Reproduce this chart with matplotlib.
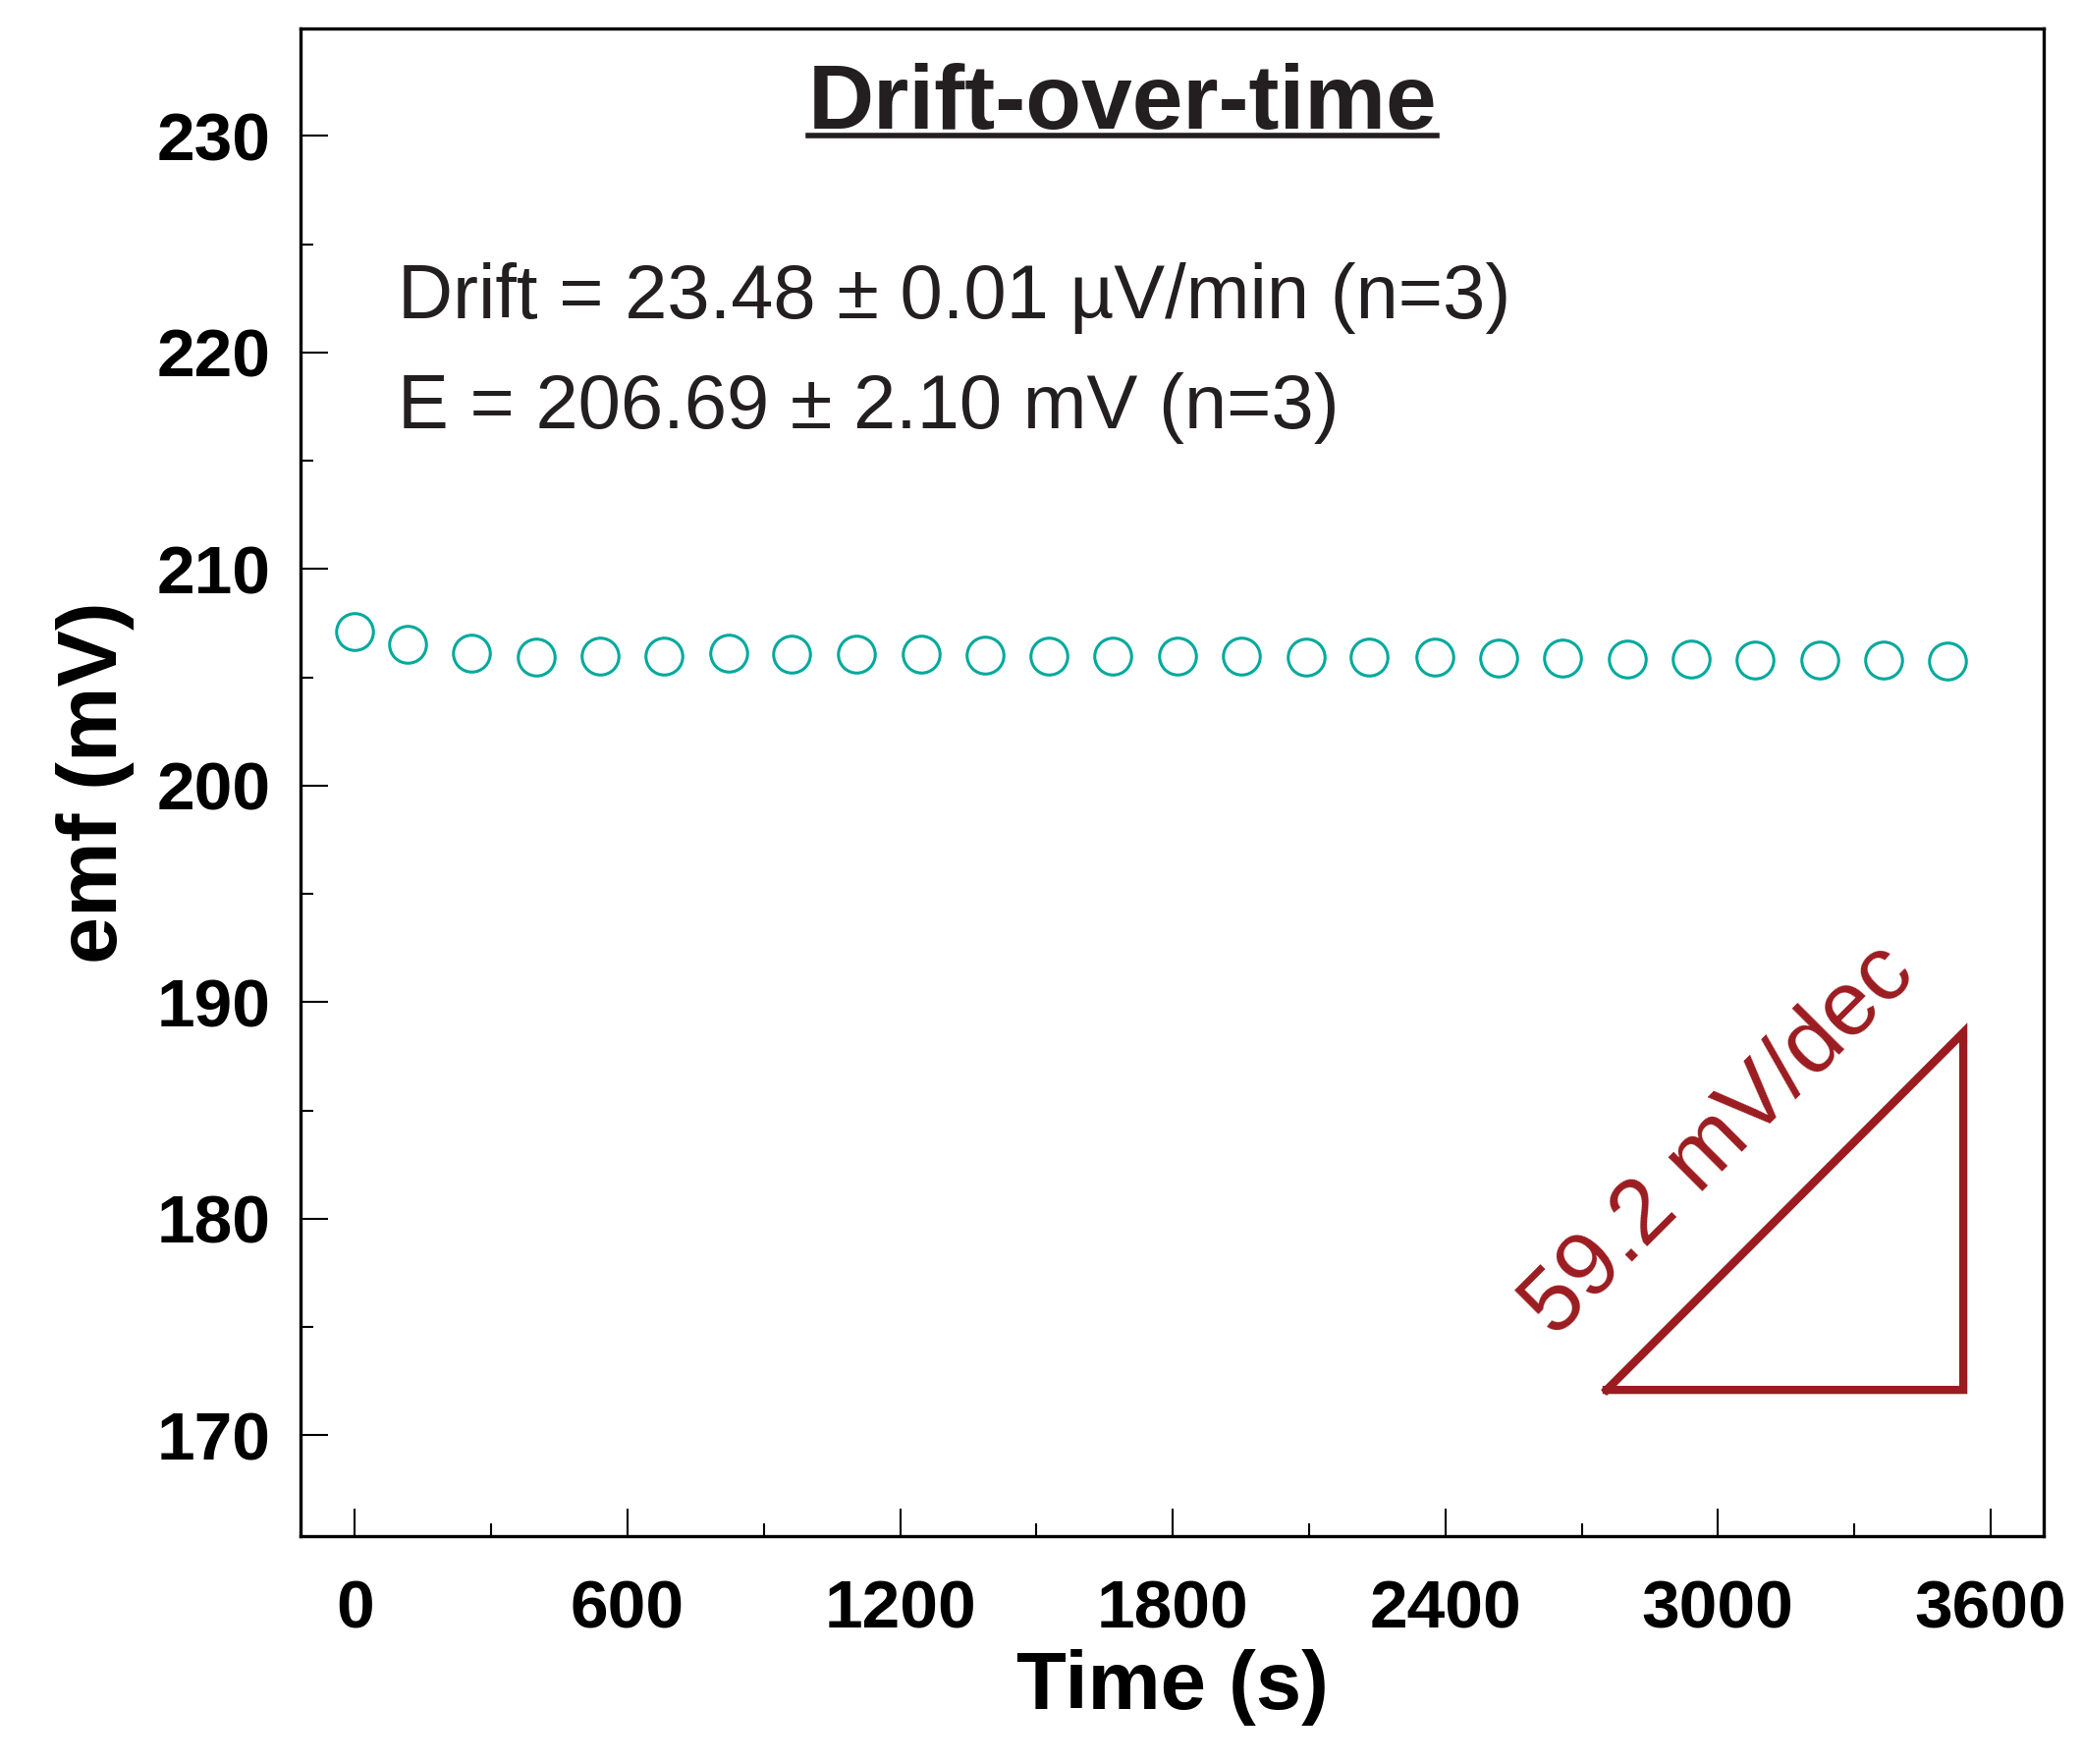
import matplotlib
matplotlib.use("Agg")
import matplotlib.pyplot as plt
from matplotlib.ticker import MultipleLocator
from matplotlib.lines import Line2D

# ---- data ----
time_s = [0, 116, 257, 398, 539, 680, 822, 962, 1103, 1246, 1387, 1527,
          1668, 1810, 1952, 2093, 2233, 2377, 2517, 2658, 2800, 2942,
          3082, 3224, 3364, 3505]
emf_mV = [207.11, 206.53, 206.12, 205.95, 206.00, 205.97, 206.11, 206.09,
          206.09, 206.06, 206.05, 206.00, 206.00, 205.97, 205.97, 205.95,
          205.93, 205.93, 205.91, 205.91, 205.87, 205.85, 205.82, 205.79,
          205.79, 205.77]
x_ticks = [0, 600, 1200, 1800, 2400, 3000, 3600]
y_ticks = [170, 180, 190, 200, 210, 220, 230]
tri_x = [2755, 3540, 3540, 2755]
tri_y = [172.1, 172.1, 188.6, 172.1]

title = "Drift-over-time"
line1 = "Drift = 23.48 \u00b1 0.01 \u00b5V/min (n=3)"
line2 = "E = 206.69 \u00b1 2.10 mV (n=3)"
slope_label = "59.2 mV/dec"

plt.rcParams['font.family'] = ['Liberation Sans', 'DejaVu Sans']

teal = "#00A99D"
red = "#9B1C20"
ink = "#231F20"

fig = plt.figure(figsize=(21.2, 17.96), dpi=100)
ax = fig.add_axes([0.1443, 0.1292, 0.9816 - 0.1443, 0.9839 - 0.1292])

ax.plot(time_s, emf_mV, linestyle='none', marker='o', markersize=27,
        markerfacecolor='none', markeredgecolor=teal, markeredgewidth=2.2)

ax.plot(tri_x, tri_y, color=red, linewidth=6, solid_joinstyle='miter')
ax.text(3003, 183.6, slope_label, rotation=45, ha='center', va='center',
        fontsize=67, color=red)

ax.set_xlim(-120, 3717)
ax.set_ylim(165.35, 234.97)
ax.set_xticks(x_ticks)
ax.set_yticks(y_ticks)
ax.xaxis.set_minor_locator(MultipleLocator(300))
ax.yaxis.set_minor_locator(MultipleLocator(5))
ax.tick_params(which='both', direction='in', top=False, right=False, width=1.5)
ax.tick_params(which='major', length=20)
ax.tick_params(which='minor', length=9.5)
ax.tick_params(axis='y', which='major', pad=22)
ax.tick_params(axis='x', which='major', pad=31)
for lab in ax.get_xticklabels() + ax.get_yticklabels():
    lab.set_fontsize(50)
    lab.set_fontweight('bold')
for s in ax.spines.values():
    s.set_linewidth(2.4)

ax.set_xlabel("Time (s)", fontsize=60, fontweight='bold', labelpad=6)
ax.set_ylabel("emf (mV)", fontsize=62, fontweight='bold', labelpad=16)

t = ax.text(0.4715, 0.9336, title, transform=ax.transAxes, ha='center',
            va='baseline', fontsize=67, fontweight='bold', color=ink)
ax.text(0.0561, 0.8075, line1, transform=ax.transAxes, ha='left',
        va='baseline', fontsize=56, color=ink)
ax.text(0.0561, 0.7347, line2, transform=ax.transAxes, ha='left',
        va='baseline', fontsize=56, color=ink)

# underline the title
fig.canvas.draw()
bb = t.get_window_extent(renderer=fig.canvas.get_renderer())
inv = fig.transFigure.inverted()
(x0, _), (x1, _) = inv.transform([(bb.x0, bb.y0), (bb.x1, bb.y0)])
_, base_y = ax.transAxes.transform((0, 0.9336))
yl = inv.transform([(0, base_y - 7)])[0][1]
fig.add_artist(Line2D([x0, x1], [yl, yl], transform=fig.transFigure,
                      color=ink, linewidth=4))

fig.savefig("out.png", dpi=100)
